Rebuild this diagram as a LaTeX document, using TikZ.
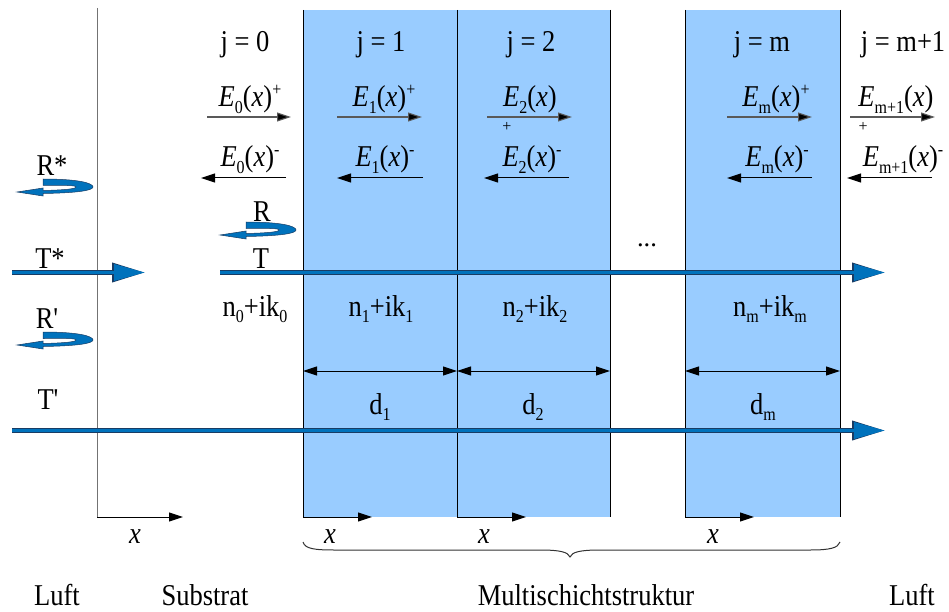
\documentclass[tikz,border=0pt]{standalone}
\usepackage{fontspec}
\setmainfont{Liberation Serif}
\usetikzlibrary{arrows.meta}
\definecolor{layer}{RGB}{153,204,255}
\definecolor{tblue}{RGB}{0,114,188}
\definecolor{tdark}{RGB}{25,60,100}
\newcommand\sbs[1]{\raisebox{-0.45ex}{\fontsize{16}{16}\selectfont #1}}
\newcommand\sps[1]{\raisebox{0.8ex}{\fontsize{16}{16}\selectfont #1}}
\newcommand\Ef[3]{\textit{E}\sbs{#1}(\textit{x})\sps{#2}#3}
\newcommand\st[1]{\scalebox{1}[1.14]{#1}}
\begin{document}
\begin{tikzpicture}[x=1pt,y=-1pt,font=\fontsize{26.5}{30}\selectfont,
  lbl/.style={anchor=base,inner sep=0pt},
  small/.style={anchor=center,inner sep=0pt,font=\fontsize{16}{16}\selectfont},
  eplus/.style={draw=black!65,line width=1.1pt,-{Triangle[length=14pt,width=9pt,fill=black]}},
  eminus/.style={draw=black,line width=1pt,-{Triangle[length=14pt,width=9pt]}},
  dimarrow/.style={draw=black,line width=1pt,{Triangle[length=14pt,width=9pt]}-{Triangle[length=14pt,width=9pt]}},
  xarrow/.style={draw=black,line width=1pt,-{Triangle[length=14pt,width=9pt]}},
  thick arrow/.style={draw=tblue,line width=3.4pt,-{Triangle[length=31pt,width=16pt]},
    preaction={draw=tdark,line width=5.2pt,-{Triangle[length=33pt,width=18.5pt]}}},
  pics/uturn/.style={code={
    \filldraw[fill=tblue,draw=tdark,line width=0.5pt]
      (-50,-8) .. controls (-15,-8) and (0,-4) .. (0,0)
      .. controls (0,4) and (-20,6) .. (-50,6.5)
      -- (-50,9) -- (-76,5) -- (-50,1) -- (-50,3.5)
      .. controls (-30,3) and (-17,2) .. (-17,0)
      .. controls (-17,-2) and (-30,-1.5) .. (-50,-1.5) -- cycle;
  }}
]
\useasboundingbox (0,0) rectangle (949,612);
% layers
\fill[layer] (303,10) rectangle (457,517);
\fill[layer] (457,10) rectangle (610,517);
\fill[layer] (685,10) rectangle (840,517);
\draw[black!55,line width=1pt] (97,8) -- (97,518);
\foreach \xx in {303,457,610,685,840} \draw[black,line width=1pt] (\xx,10) -- (\xx,517);
% header
\node[lbl] (j0) at (245,52) {\st{j = 0}};
\node[lbl] (j1) at (381,52) {\st{j = 1}};
\node[lbl] (j2) at (531,52) {\st{j = 2}};
\node[lbl] (jm) at (762,52) {\st{j = m}};
\node[lbl] (jm1) at (903,52) {\st{j = m+1}};
% E+ labels
\node[lbl] (e0p) at (250,107) {\st{\Ef{0}{+}{}}};
\node[lbl] (e1p) at (384,107) {\st{\Ef{1}{+}{}}};
\node[lbl] (e2p) at (530,107) {\st{\Ef{2}{}{}}};
\node[lbl] (emp) at (776,107) {\st{\Ef{m}{+}{}}};
\node[lbl] (em1p) at (896,107) {\st{\Ef{m+1}{}{}}};
\node[small] (p2) at (507,127) {+};
\node[small] (pm1) at (863,127) {+};
% E- labels
\node[lbl] (e0m) at (250,167) {\st{\Ef{0}{-}{}}};
\node[lbl] (e1m) at (385,167) {\st{\Ef{1}{-}{}}};
\node[lbl] (e2m) at (532,167) {\st{\Ef{2}{-}{}}};
\node[lbl] (emm) at (777,167) {\st{\Ef{m}{-}{}}};
\node[lbl] (em1m) at (903,167) {\st{\Ef{m+1}{-}{}}};
% E arrows
\coordinate (a0s) at (207,117); \coordinate (a0e) at (291,117);
\coordinate (a1s) at (337,117); \coordinate (a1e) at (422,117);
\coordinate (a2s) at (487,117); \coordinate (a2e) at (572,117);
\coordinate (ams) at (727,117); \coordinate (ame) at (812,117);
\coordinate (am1s) at (850,117); \coordinate (am1e) at (935,117);
\draw[eplus] (a0s) -- (a0e);
\draw[eplus] (a1s) -- (a1e);
\draw[eplus] (a2s) -- (a2e);
\draw[eplus] (ams) -- (ame);
\draw[eplus] (am1s) -- (am1e);
\coordinate (b0s) at (286,178); \coordinate (b0e) at (201,178);
\coordinate (b1s) at (423,178); \coordinate (b1e) at (337,178);
\coordinate (b2s) at (569,178); \coordinate (b2e) at (484,178);
\coordinate (bms) at (812,178); \coordinate (bme) at (727,178);
\coordinate (bm1s) at (932,178); \coordinate (bm1e) at (847,178);
\draw[eminus] (b0s) -- (b0e);
\draw[eminus] (b1s) -- (b1e);
\draw[eminus] (b2s) -- (b2e);
\draw[eminus] (bms) -- (bme);
\draw[eminus] (bm1s) -- (bm1e);
% R, T labels
\node[lbl] (Rs) at (52,176) {\st{R*}};
\pic at (93,187) {uturn};
\node[lbl] (R) at (262,222) {\st{R}};
\pic at (296,230) {uturn};
\node[lbl] (Ts) at (50,268) {\st{T*}};
\node[lbl] (T) at (261,268) {\st{T}};
\node[lbl] (Rp) at (47,328) {\st{R\textquotesingle}};
\pic at (93,340) {uturn};
\node[lbl] (Tp) at (48,409) {\st{T\textquotesingle}};
\node[lbl] (dots) at (647,246) {...};
% thick arrows
\coordinate (tsa) at (12,272.5); \coordinate (tsb) at (145,272.5);
\coordinate (ta) at (220,272.5); \coordinate (tb) at (885,272.5);
\coordinate (tpa) at (12,430.5); \coordinate (tpb) at (885,430.5);
\draw[thick arrow] (tsa) -- (tsb);
\draw[thick arrow] (ta) -- (tb);
\draw[thick arrow] (tpa) -- (tpb);
% refractive indices
\node[lbl] (n0) at (255,316) {\st{n\sbs{0}+ik\sbs{0}}};
\node[lbl] (n1) at (381,316) {\st{n\sbs{1}+ik\sbs{1}}};
\node[lbl] (n2) at (535,316) {\st{n\sbs{2}+ik\sbs{2}}};
\node[lbl] (nm) at (770,316) {\st{n\sbs{m}+ik\sbs{m}}};
% thickness
\coordinate (d1a) at (303,371); \coordinate (d1b) at (457,371);
\coordinate (d2a) at (457,371); \coordinate (d2b) at (610,371);
\coordinate (dma) at (685,371); \coordinate (dmb) at (840,371);
\draw[dimarrow] (d1a) -- (d1b);
\draw[dimarrow] (d2a) -- (d2b);
\draw[dimarrow] (dma) -- (dmb);
\node[lbl] (d1) at (380,414) {\st{d\sbs{1}}};
\node[lbl] (d2) at (533,414) {\st{d\sbs{2}}};
\node[lbl] (dm) at (763,414) {\st{d\sbs{m}}};
% x axes
\coordinate (x0a) at (97,517); \coordinate (x0b) at (183,517);
\coordinate (x1a) at (303,517); \coordinate (x1b) at (372,517);
\coordinate (x2a) at (457,517); \coordinate (x2b) at (526,517);
\coordinate (xma) at (685,517); \coordinate (xmb) at (754,517);
\draw[xarrow] (x0a) -- (x0b);
\draw[xarrow] (x1a) -- (x1b);
\draw[xarrow] (x2a) -- (x2b);
\draw[xarrow] (xma) -- (xmb);
\node[lbl] (xl0) at (135,543) {\st{\textit{x}}};
\node[lbl] (xl1) at (330,543) {\st{\textit{x}}};
\node[lbl] (xl2) at (484,543) {\st{\textit{x}}};
\node[lbl] (xlm) at (713,543) {\st{\textit{x}}};
% brace
\draw[black!80,line width=1pt] (303,542) .. controls (305,549) and (315,550) .. (335,550) -- (540,550)
  .. controls (560,550) and (568,552) .. (570,557)
  .. controls (572,552) and (580,550) .. (600,550) -- (810,550)
  .. controls (830,550) and (838,548) .. (840,542);
% bottom labels
\node[lbl] (luft1) at (57,605) {\st{Luft}};
\node[lbl] (sub) at (205,605) {\st{Substrat}};
\node[lbl] (multi) at (586,605) {\st{Multischichtstruktur}};
\node[lbl] (luft2) at (912,605) {\st{Luft}};
\end{tikzpicture}
\end{document}
